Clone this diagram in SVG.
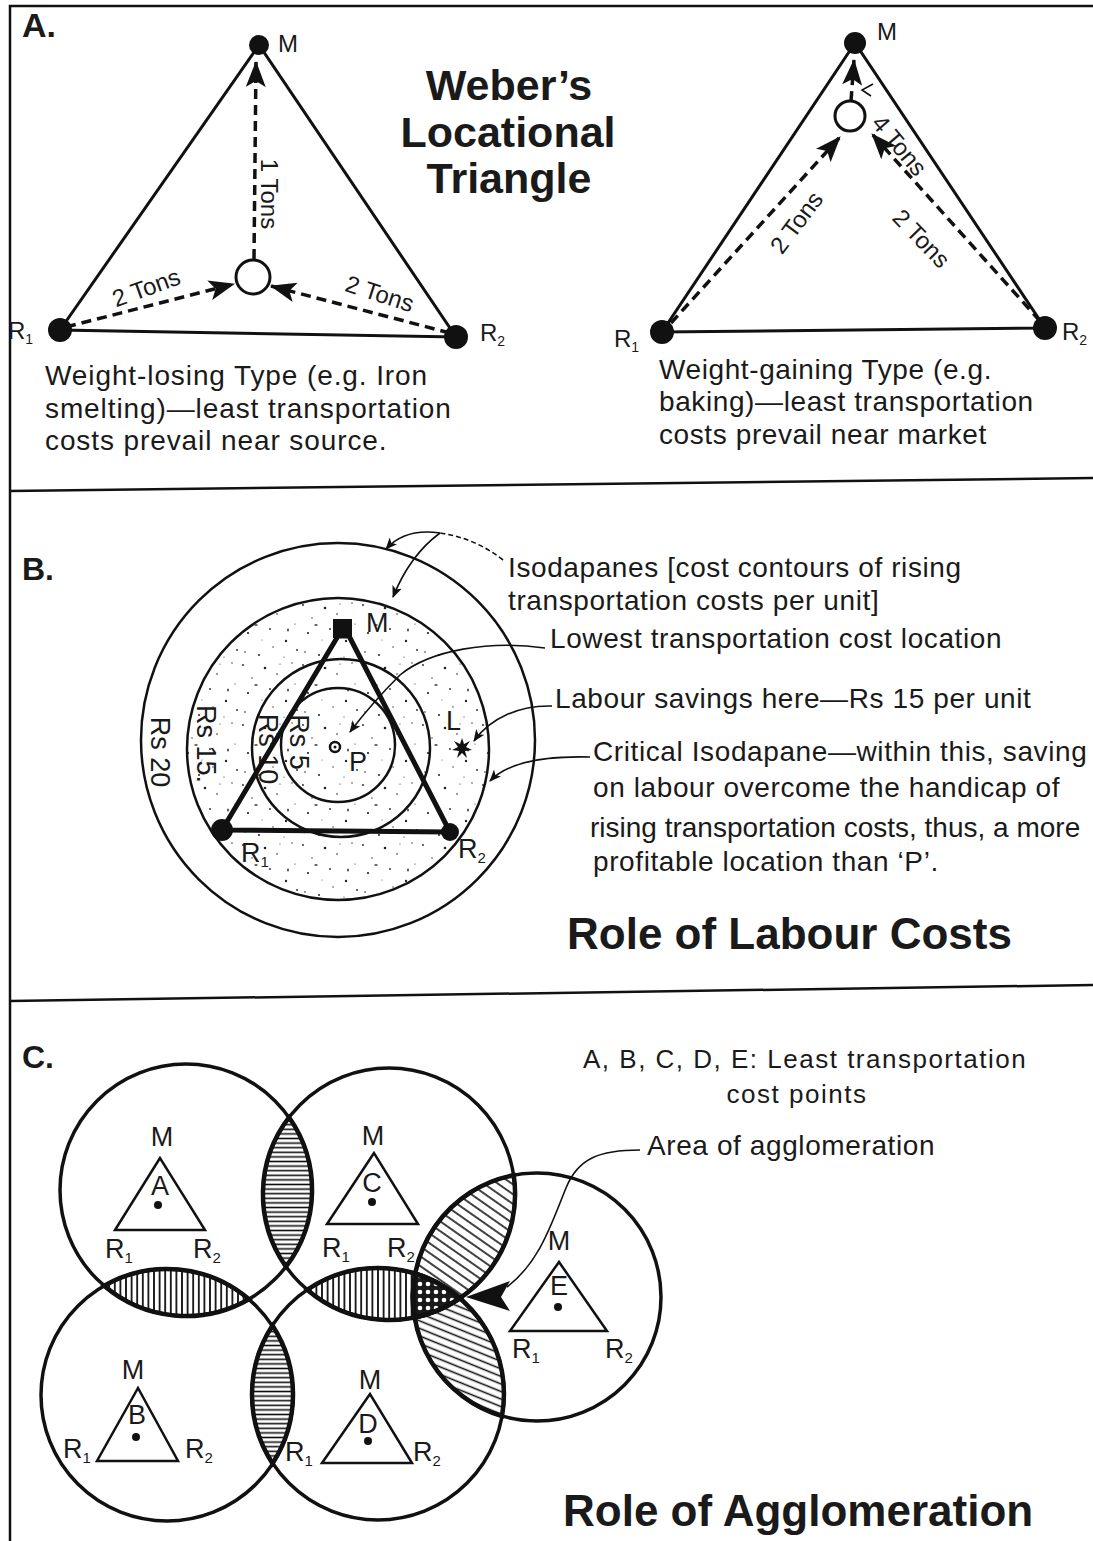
<svg xmlns="http://www.w3.org/2000/svg" width="1093" height="1541" viewBox="0 0 1093 1541">
<defs>
<style>
.t{font-family:"Liberation Sans",Arial,Helvetica,sans-serif;font-size:28px;letter-spacing:0.6px;fill:#1a1a1a}
.tc{font-family:"Liberation Sans",Arial,Helvetica,sans-serif;font-size:26px;letter-spacing:1.5px;fill:#1a1a1a}
.lb{font-family:"Liberation Sans",Arial,Helvetica,sans-serif;font-size:24px;fill:#1a1a1a}
.lc{font-family:"Liberation Sans",Arial,Helvetica,sans-serif;font-size:27px;fill:#1a1a1a}
.hd{font-family:"Liberation Sans",Arial,Helvetica,sans-serif;font-weight:bold;fill:#1a1a1a}
.ln{stroke:#111;fill:none;stroke-width:3}
.dash{stroke:#111;fill:none;stroke-width:3.5;stroke-dasharray:10 6}
.cir{stroke:#111;fill:none;stroke-width:3.5}
.cirb{stroke:#111;fill:none;stroke-width:2.5}
.lens{stroke:#111;stroke-width:4.5}
.thin{stroke:#111;fill:none;stroke-width:1.6}
.tri{stroke:#111;fill:none;stroke-width:2.5;stroke-linejoin:miter}
</style>
<marker id="ah" viewBox="0 0 26 20" refX="25" refY="10" markerWidth="26" markerHeight="20" markerUnits="userSpaceOnUse" orient="auto"><path d="M0,0 L26,10 L0,20 L6,10 Z" fill="#111"/></marker>
<marker id="sm" viewBox="0 0 12 10" refX="11" refY="5" markerWidth="12" markerHeight="10" markerUnits="userSpaceOnUse" orient="auto"><path d="M0,0 L12,5 L0,10 L3,5 Z" fill="#111"/></marker>
<pattern id="hH" width="12" height="4.6" patternUnits="userSpaceOnUse"><line x1="0" y1="2.3" x2="12" y2="2.3" stroke="#111" stroke-width="1.6"/></pattern>
<pattern id="hV" width="5.6" height="12" patternUnits="userSpaceOnUse"><line x1="2.8" y1="0" x2="2.8" y2="12" stroke="#111" stroke-width="1.8"/></pattern>
<pattern id="hD1" width="12" height="8" patternUnits="userSpaceOnUse" patternTransform="rotate(35)"><line x1="0" y1="4" x2="12" y2="4" stroke="#111" stroke-width="1.6"/></pattern>
<pattern id="hD2" width="12" height="7" patternUnits="userSpaceOnUse" patternTransform="rotate(22)"><line x1="0" y1="3.5" x2="12" y2="3.5" stroke="#111" stroke-width="1.6"/></pattern>
<pattern id="dots" width="8" height="8" patternUnits="userSpaceOnUse"><rect width="8" height="8" fill="#1a1a1a"/><circle cx="4" cy="4" r="2.3" fill="#fff"/></pattern>
<pattern id="stip" width="60" height="60" patternUnits="userSpaceOnUse">
<g fill="#222">
<circle cx="3" cy="5" r="0.9"/><circle cx="12" cy="18" r="0.7"/><circle cx="25" cy="8" r="1.3"/><circle cx="37" cy="14" r="0.8"/><circle cx="52" cy="3" r="0.7"/><circle cx="8" cy="33" r="1.1"/><circle cx="30" cy="29" r="0.9"/><circle cx="46" cy="41" r="1.2"/><circle cx="55" cy="24" r="0.6"/><circle cx="5" cy="52" r="0.8"/><circle cx="19" cy="55" r="1.0"/><circle cx="33" cy="47" r="0.7"/><circle cx="44" cy="57" r="0.6"/><circle cx="22" cy="40" r="0.5"/><circle cx="40" cy="4" r="0.6"/><circle cx="57" cy="50" r="0.9"/>
<ellipse cx="16" cy="25" rx="1.8" ry="0.8"/><ellipse cx="48" cy="30" rx="0.8" ry="1.6"/>
</g>
</pattern>
</defs>

<rect width="1093" height="1541" fill="#fff"/>

<!-- frame and separators -->
<g id="frame" stroke="#111" stroke-width="2.5" fill="none">
<polyline points="1093,6 10,6 10,1541"/>
<line x1="10" y1="491" x2="1093" y2="478"/>
<line x1="10" y1="1001" x2="1093" y2="985"/>
</g>

<!-- ============ PANEL A ============ -->
<text class="hd" x="22" y="37" font-size="34">A.</text>
<g id="title-weber" class="hd" font-size="43" text-anchor="middle">
<text x="509" y="100">Weber’s</text>
<text x="508" y="147">Locational</text>
<text x="509" y="193">Triangle</text>
</g>

<!-- left triangle -->
<g id="A1-edges">
<polygon class="ln" points="259,45 60,330 456,337"/>
</g>
<g id="A1-connectors">
<line class="dash" x1="66" y1="327" x2="234" y2="284" marker-end="url(#ah)"/>
<line class="dash" x1="450" y1="333" x2="271" y2="286" marker-end="url(#ah)"/>
<line class="dash" x1="254" y1="259" x2="256" y2="62" marker-end="url(#ah)"/>
</g>
<g id="A1-M"><circle cx="259" cy="45" r="10" fill="#111"/><text class="lb" x="278" y="52">M</text></g>
<g id="A1-R1"><circle cx="60" cy="330" r="12" fill="#111"/><text class="lb" x="8" y="339">R<tspan font-size="14" dy="5">1</tspan></text></g>
<g id="A1-R2"><circle cx="456" cy="337" r="12" fill="#111"/><text class="lb" x="480" y="341">R<tspan font-size="14" dy="5">2</tspan></text></g>
<g id="A1-P"><circle cx="253" cy="277" r="17" fill="#fff" stroke="#111" stroke-width="3"/></g>
<g id="A1-labels" class="lb" font-size="26" text-anchor="middle">
<text transform="translate(270,194) rotate(90)" y="9">1 Tons</text>
<text transform="translate(146,287) rotate(-20)" y="9">2 Tons</text>
<text transform="translate(380,293) rotate(18)" y="9">2 Tons</text>
</g>
<g id="A1-caption" class="t" style="letter-spacing:0.9px">
<text x="45" y="385">Weight-losing Type (e.g. Iron</text>
<text x="45" y="418">smelting)—least transportation</text>
<text x="45" y="450">costs prevail near source.</text>
</g>

<!-- right triangle -->
<g id="A2-edges">
<polygon class="ln" points="855,43 662,332 1045,328"/>
</g>
<g id="A2-connectors">
<line class="dash" x1="671" y1="323" x2="840" y2="137" marker-end="url(#ah)"/>
<line class="dash" x1="1040" y1="321" x2="872" y2="134" marker-end="url(#ah)"/>
<line class="dash" x1="851" y1="101" x2="854" y2="60" marker-end="url(#ah)"/>
<polyline class="thin" stroke-width="2.2" points="873,84 862,90 871,96"/>
</g>
<g id="A2-M"><circle cx="855" cy="43" r="11" fill="#111"/><text class="lb" x="877" y="40">M</text></g>
<g id="A2-R1"><circle cx="662" cy="332" r="12" fill="#111"/><text class="lb" x="614" y="347">R<tspan font-size="14" dy="5">1</tspan></text></g>
<g id="A2-R2"><circle cx="1045" cy="328" r="12" fill="#111"/><text class="lb" x="1062" y="340">R<tspan font-size="14" dy="5">2</tspan></text></g>
<g id="A2-P"><circle cx="850" cy="116" r="15" fill="#fff" stroke="#111" stroke-width="3"/></g>
<g id="A2-labels" class="lb" font-size="26" text-anchor="middle">
<text transform="translate(796,222) rotate(-53)" y="9">2 Tons</text>
<text transform="translate(922,238) rotate(46)" y="9">2 Tons</text>
<text transform="translate(900,145) rotate(50)" y="9">4 Tons</text>
</g>
<g id="A2-caption" class="t">
<text x="659" y="379">Weight-gaining Type (e.g.</text>
<text x="659" y="411">baking)—least transportation</text>
<text x="659" y="444">costs prevail near market</text>
</g>

<!-- ============ PANEL B ============ -->
<text class="hd" x="22" y="580" font-size="32">B.</text>
<g id="B-isodapanes">
<circle class="cirb" cx="338" cy="740" r="197"/>
<circle cx="338" cy="749" r="151" fill="url(#stip)" stroke="#111" stroke-width="2.5"/>
<circle class="cirb" cx="341" cy="748" r="89"/>
<circle class="cirb" cx="338" cy="745" r="57"/>
</g>
<g id="B-rs-labels" class="lc" font-size="26" text-anchor="middle">
<text transform="translate(160,752) rotate(90)" y="9">Rs 20</text>
<text transform="translate(206,744) rotate(90)" y="9">Rs 15.</text>
<text transform="translate(268,749) rotate(90)" y="9">Rs 10</text>
<text transform="translate(299,742) rotate(90)" y="9">Rs 5</text>
</g>
<g id="B-triangle">
<polygon points="338,636 222,830 450,832 349,636" fill="none" stroke="#111" stroke-width="5" stroke-linejoin="round"/>
</g>
<g id="B-M"><rect x="333" y="619" width="19" height="19" fill="#111"/><text class="lc" font-size="28" x="366" y="632">M</text></g>
<g id="B-R1"><circle cx="222" cy="830" r="11" fill="#111"/><text class="lc" x="241" y="862">R<tspan font-size="15" dy="5">1</tspan></text></g>
<g id="B-R2"><circle cx="450" cy="832" r="9" fill="#111"/><text class="lc" x="458" y="858">R<tspan font-size="15" dy="5">2</tspan></text></g>
<g id="B-P"><circle cx="335" cy="747" r="5" fill="#fff" stroke="#111" stroke-width="2.5"/><circle cx="335" cy="747" r="1.5" fill="#111"/><text class="lc" font-size="28" x="349" y="771">P</text></g>
<g id="B-L"><text class="lc" font-size="28" x="446" y="730">L</text>
<polygon points="462,738 464,744 470,741 466,747 472,750 465,751 467,758 462,753 457,758 459,751 452,750 458,747 454,741 460,744" fill="#111"/></g>
<g id="B-connectors">
<path class="thin" d="M503,560 Q475,538 440,533" stroke-dasharray="5 3"/>
<path class="thin" d="M440,533 Q405,528 386,549" marker-end="url(#sm)"/>
<path class="thin" d="M440,533 Q410,555 393,597" marker-end="url(#sm)"/>
<path class="thin" d="M545,648 C490,640 430,650 400,675 C380,695 365,712 350,732" marker-end="url(#sm)"/>
<path class="thin" d="M552,706 C520,705 490,718 474,741" marker-end="url(#sm)"/>
<path class="thin" d="M590,757 C550,756 510,760 490,781" marker-end="url(#sm)"/>
</g>
<g id="B-notes" class="t">
<text x="508" y="577">Isodapanes [cost contours of rising</text>
<text x="508" y="610">transportation costs per unit]</text>
<text x="550" y="648">Lowest transportation cost location</text>
<text x="555" y="708">Labour savings here—Rs 15 per unit</text>
<text x="593" y="761">Critical Isodapane—within this, saving</text>
<text x="593" y="797">on labour overcome the handicap of</text>
<text x="590" y="837" style="letter-spacing:0">rising transportation costs, thus, a more</text>
<text x="593" y="871">profitable location than ‘P’.</text>
</g>
<text id="B-title" class="hd" x="567" y="949" font-size="44">Role of Labour Costs</text>

<!-- ============ PANEL C ============ -->
<text class="hd" x="22" y="1068" font-size="32">C.</text>
<g id="C-overlaps">
<path class="lens" fill="url(#hH)" d="M289,1117.3 A126,126 0 0 1 286,1266.7 A126,126 0 0 1 289,1117.3 Z"/>
<path class="lens" fill="url(#hV)" d="M248.9,1299.2 A126,126 0 0 1 104.1,1285.8 A126,126 0 0 1 248.9,1299.2 Z"/>
<path class="lens" fill="url(#hH)" d="M272.5,1325.6 A126,126 0 0 1 272.5,1463.4 A126,126 0 0 1 272.5,1325.6 Z"/>
<path class="lens" fill="url(#hV)" d="M459.9,1298.2 A126,126 0 0 1 307.1,1289.8 A126,126 0 0 1 459.9,1298.2 Z"/>
<path class="lens" fill="url(#hD1)" d="M513.7,1175.2 A126,126 0 0 1 414.7,1317.4 A124,124 0 0 1 513.7,1175.2 Z"/>
<path class="lens" fill="url(#hD2)" d="M415.2,1273.6 A126,126 0 0 1 502,1416 A124,124 0 0 1 415.2,1273.6 Z"/>
<path fill="url(#dots)" stroke="#111" stroke-width="5" d="M415.2,1273.6 A124,124 0 0 0 414.7,1317.4 A126,126 0 0 0 459.9,1298.2 A126,126 0 0 0 415.2,1273.6 Z"/>
</g>
<g id="C-circles">
<circle class="cir" cx="186" cy="1190" r="126"/>
<circle class="cir" cx="389" cy="1194" r="126"/>
<circle class="cir" cx="167" cy="1395" r="126"/>
<circle class="cir" cx="378" cy="1394" r="126"/>
<circle class="cir" cx="537" cy="1297" r="124"/>
</g>
<g id="C-A">
<polygon class="tri" points="160,1158 115,1230 205,1230"/><circle cx="158" cy="1205" r="4" fill="#111"/>
<text class="lc" font-size="28" x="162" y="1146" text-anchor="middle">M</text>
<text class="lc" x="160" y="1195" text-anchor="middle">A</text>
<text class="lc" x="105" y="1258">R<tspan font-size="15" dy="5">1</tspan></text>
<text class="lc" x="193" y="1258">R<tspan font-size="15" dy="5">2</tspan></text>
</g>
<g id="C-C">
<polygon class="tri" points="374,1153 327,1224 418,1224"/><circle cx="372" cy="1202" r="4" fill="#111"/>
<text class="lc" font-size="28" x="373" y="1145" text-anchor="middle">M</text>
<text class="lc" x="372" y="1192" text-anchor="middle">C</text>
<text class="lc" x="322" y="1257">R<tspan font-size="15" dy="5">1</tspan></text>
<text class="lc" x="387" y="1257">R<tspan font-size="15" dy="5">2</tspan></text>
</g>
<g id="C-B">
<polygon class="tri" points="138,1388 97,1461 178,1461"/><circle cx="136" cy="1437" r="4" fill="#111"/>
<text class="lc" font-size="28" x="133" y="1379" text-anchor="middle">M</text>
<text class="lc" x="137" y="1424" text-anchor="middle">B</text>
<text class="lc" x="63" y="1458">R<tspan font-size="15" dy="5">1</tspan></text>
<text class="lc" x="185" y="1458">R<tspan font-size="15" dy="5">2</tspan></text>
</g>
<g id="C-D">
<polygon class="tri" points="370,1394 322,1463 412,1463"/><circle cx="368" cy="1441" r="4" fill="#111"/>
<text class="lc" font-size="28" x="370" y="1389" text-anchor="middle">M</text>
<text class="lc" x="368" y="1433" text-anchor="middle">D</text>
<text class="lc" x="285" y="1461">R<tspan font-size="15" dy="5">1</tspan></text>
<text class="lc" x="413" y="1461">R<tspan font-size="15" dy="5">2</tspan></text>
</g>
<g id="C-E">
<polygon class="tri" points="559,1262 510,1331 607,1331"/><circle cx="558" cy="1307" r="4" fill="#111"/>
<text class="lc" font-size="28" x="559" y="1250" text-anchor="middle">M</text>
<text class="lc" x="559" y="1295" text-anchor="middle" font-size="22" fill="#777">E</text>
<text class="lc" x="512" y="1358">R<tspan font-size="15" dy="5">1</tspan></text>
<text class="lc" x="605" y="1358">R<tspan font-size="15" dy="5">2</tspan></text>
</g>
<g id="C-connectors">
<path class="thin" d="M640,1150 C600,1150 578,1158 566,1188 C552,1222 540,1262 507,1287"/>
<polygon points="466,1297 510,1281 501,1297 510,1311" fill="#111"/>
</g>
<g id="C-notes">
<text class="tc" x="583" y="1068">A, B, C, D, E: Least transportation</text>
<text class="tc" x="797" y="1103" text-anchor="middle">cost points</text>
<text class="t" x="647" y="1155">Area of agglomeration</text>
</g>
<text id="C-title" class="hd" x="563" y="1526" font-size="44">Role of Agglomeration</text>
</svg>
